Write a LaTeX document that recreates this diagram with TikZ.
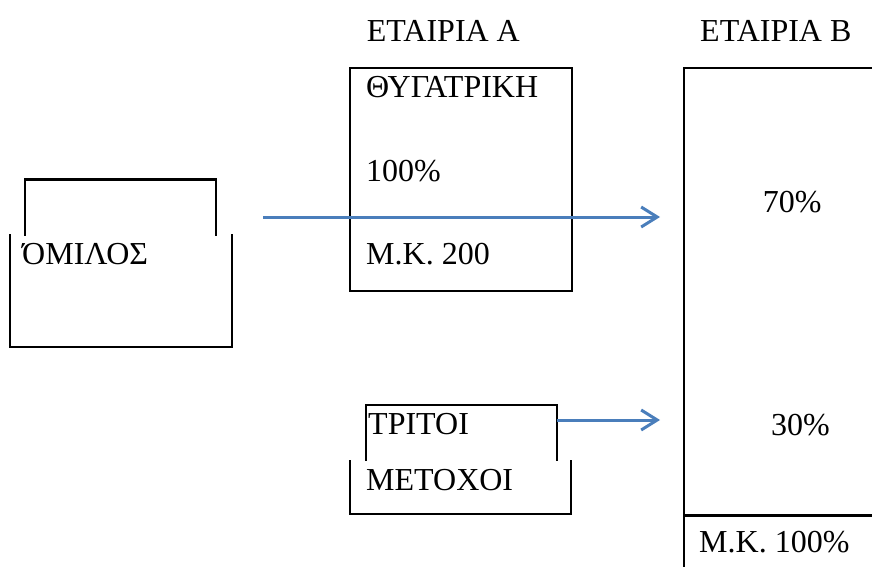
\documentclass[tikz,border=0pt]{standalone}
\usepackage{fontspec}
\setmainfont{Liberation Serif}
\usetikzlibrary{arrows.meta}
\definecolor{linkblue}{RGB}{74,126,187}
\tikzset{
  frame/.style={draw=black, line width=2.4pt, line cap=rect},
  label/.style={anchor=base west, inner sep=0pt, font=\fontsize{32}{38}\selectfont},
  link/.style={draw=linkblue, line width=3pt,
    -{Straight Barb[length=16pt, width=20pt, line width=3pt]}}
}
\begin{document}
\begin{tikzpicture}[x=1pt, y=-1pt]
  \useasboundingbox (0,0) rectangle (872,567);
  \clip (0,0) rectangle (872,567);

  % column headings
  \node[label] (headA) at (366.7,41.7) {ΕΤΑΙΡΙΑ Α};
  \node[label] (headB) at (700,41.7) {ΕΤΑΙΡΙΑ Β};

  % group: split frame
  \draw[frame] (25,235) -- (25,179.5) -- (216,179.5) -- (216,235);
  \draw[frame] (10,235) -- (10,347) -- (232,347) -- (232,235);
  \node[label] (group) at (22,264) {ΌΜΙΛΟΣ};

  % subsidiary, company A
  \draw[frame] (350,68.3) rectangle (571.7,290.7);
  \node[label] (subName) at (366,98) {ΘΥΓΑΤΡΙΚΗ};
  \node[label] (subShare) at (366,181.5) {100\%};
  \node[label] (subCap) at (366,264) {Μ.Κ. 200};

  % third-party shareholders: split frame
  \draw[frame] (366,460) -- (366,405) -- (556.7,405) -- (556.7,460);
  \draw[frame] (350,461) -- (350,514) -- (570.7,514) -- (570.7,461);
  \node[label] (third1) at (368,434) {ΤΡΙΤΟΙ};
  \node[label] (third2) at (366,490) {ΜΕΤΟΧΟΙ};

  % company B
  \draw[frame] (684,68.3) rectangle (900,620);
  \draw[frame] (684,515.5) -- (900,515.5);
  \node[label] (share70) at (762.7,212) {70\%};
  \node[label] (share30) at (771,435) {30\%};
  \node[label] (capB) at (699,552) {Μ.Κ. 100\%};

  % holdings into company B
  \coordinate (groupOut) at (263,217);
  \coordinate (in70) at (660,217);
  \coordinate (thirdOut) at (556.7,420);
  \coordinate (in30) at (660,420);
  \draw[link] (groupOut) -- (in70);
  \draw[link] (thirdOut) -- (in30);
\end{tikzpicture}
\end{document}
